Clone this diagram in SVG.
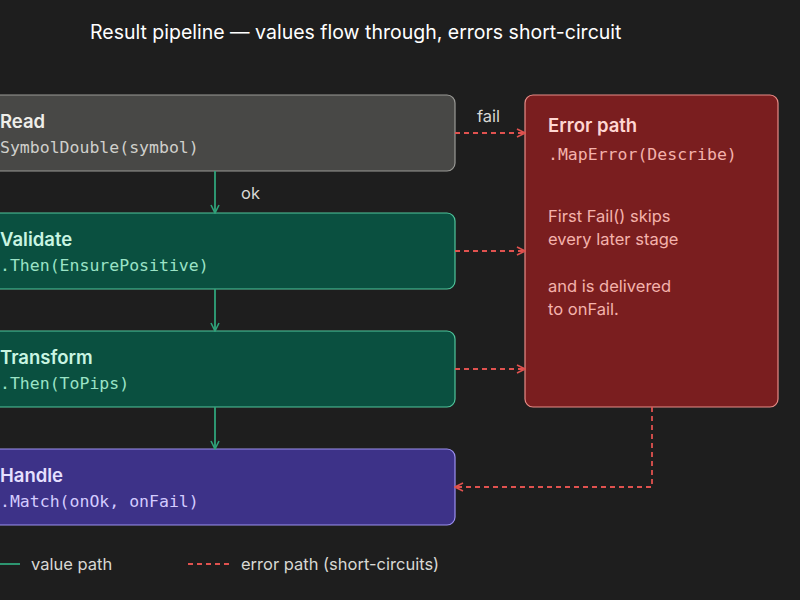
<svg xmlns="http://www.w3.org/2000/svg" width="800" height="600" viewBox="0 0 800 600">
<style>
.t{font-family:Inter,"Noto Sans",sans-serif;font-size:18.5px;font-weight:600}
.m{font-family:"DejaVu Sans Mono",monospace;font-size:16.5px}
.s{font-family:Inter,"Noto Sans",sans-serif;font-size:16.5px}
.ok{stroke:#2fa37a;stroke-width:1.8;fill:none}
.er{stroke:#e0524f;stroke-width:1.8;fill:none;stroke-dasharray:5 4}
</style>
<defs>
<marker id="ag" viewBox="0 0 10 10" refX="9" refY="5" markerWidth="10" markerHeight="10" markerUnits="userSpaceOnUse" orient="auto"><path d="M1,1L9,5L1,9" fill="none" stroke="#2fa37a" stroke-width="1.6"/></marker>
<marker id="ar" viewBox="0 0 10 10" refX="9" refY="5" markerWidth="10" markerHeight="10" markerUnits="userSpaceOnUse" orient="auto"><path d="M1,1L9,5L1,9" fill="none" stroke="#e0524f" stroke-width="1.6"/></marker>
</defs>
<rect width="800" height="600" fill="#1e1e1e"/>
<text x="90" y="39" font-family="Inter,'Noto Sans',sans-serif" font-size="19.5" fill="#ffffff">Result pipeline — values flow through, errors short-circuit</text>
<g id="read"><rect x="-20" y="95" width="475" height="76" rx="8" fill="#484846" stroke="#9a9a96" stroke-width="1.2"/>
<text class="t" x="0" y="128" fill="#eeeeea">Read</text><text class="m" x="0" y="153" fill="#d0d0cc">SymbolDouble(symbol)</text></g>
<g id="validate"><rect x="-20" y="213" width="475" height="76" rx="8" fill="#0a5040" stroke="#4fc59b" stroke-width="1.2"/>
<text class="t" x="0" y="246" fill="#c9f5e2">Validate</text><text class="m" x="0" y="271" fill="#9be3c6">.Then(EnsurePositive)</text></g>
<g id="transform"><rect x="-20" y="331" width="475" height="76" rx="8" fill="#0a5040" stroke="#4fc59b" stroke-width="1.2"/>
<text class="t" x="0" y="364" fill="#c9f5e2">Transform</text><text class="m" x="0" y="389" fill="#9be3c6">.Then(ToPips)</text></g>
<g id="handle"><rect x="-20" y="449" width="475" height="76" rx="8" fill="#3d3288" stroke="#9b8ff0" stroke-width="1.2"/>
<text class="t" x="0" y="482" fill="#e6e0ff">Handle</text><text class="m" x="0" y="507" fill="#d4ccff">.Match(onOk, onFail)</text></g>
<g id="error"><rect x="525" y="95" width="253" height="312" rx="8" fill="#7a1e1f" stroke="#e88c87" stroke-width="1.2"/>
<text class="t" x="548" y="132" fill="#ffd6d2">Error path</text><text class="m" x="548" y="160" fill="#f4b2ac">.MapError(Describe)</text>
<text class="s" fill="#f4b2ac"><tspan x="548" y="222">First Fail() skips</tspan><tspan x="548" y="245">every later stage</tspan><tspan x="548" y="292">and is delivered</tspan><tspan x="548" y="315">to onFail.</tspan></text></g>
<g id="connectors">
<path class="ok" d="M215,171V213" marker-end="url(#ag)"/>
<path class="ok" d="M215,289V331" marker-end="url(#ag)"/>
<path class="ok" d="M215,407V449" marker-end="url(#ag)"/>
<text class="s" x="241" y="199" fill="#d8d8d4">ok</text>
<path class="er" d="M455,133H525" marker-end="url(#ar)"/>
<path class="er" d="M455,251H525" marker-end="url(#ar)"/>
<path class="er" d="M455,369H525" marker-end="url(#ar)"/>
<text class="s" x="477" y="122" fill="#d8d8d4">fail</text>
<path class="er" d="M652,407V487H455" marker-end="url(#ar)"/>
</g>
<g id="legend">
<path class="ok" d="M0,564H20"/><text class="s" x="31" y="570" fill="#d8d8d4">value path</text>
<path class="er" d="M188,564H230"/><text class="s" x="241" y="570" fill="#d8d8d4">error path (short-circuits)</text>
</g>
</svg>
